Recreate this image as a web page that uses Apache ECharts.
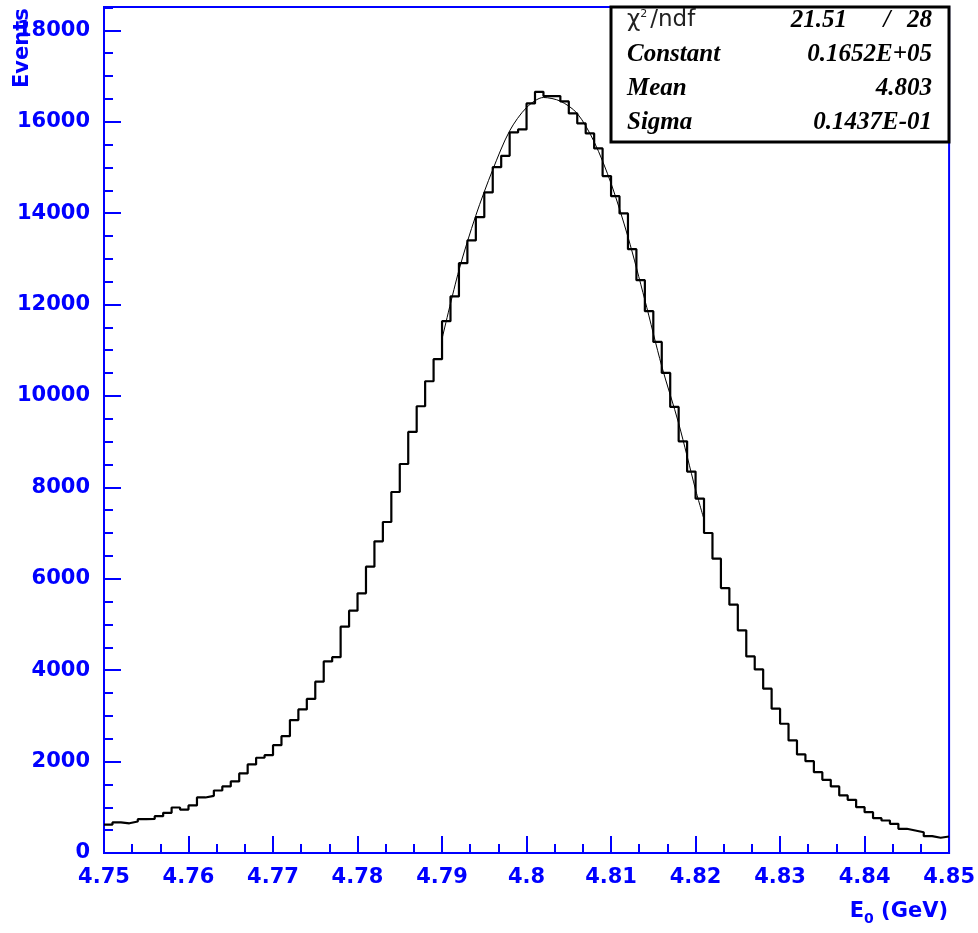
<!DOCTYPE html>
<html>
<head>
<meta charset="utf-8">
<script src="https://cdn.jsdelivr.net/npm/echarts@6/dist/echarts.min.js"></script>
<style>
html,body{margin:0;padding:0;background:#fff}
#chart{width:978px;height:933px}
</style>
</head>
<body>
<div id="chart"></div>
<script>
// histogram: 100 bins of 0.001 GeV starting at 4.75
var binLow = 4.75;
var binWidth = 0.001;
var counts = [
    620, 670, 650, 690, 740, 745, 805, 880, 995, 950,
    1040, 1215, 1250, 1368, 1456, 1565, 1740, 1937, 2084, 2141,
    2360, 2557, 2908, 3141, 3370, 3748, 4192, 4285, 4952, 5302,
    5681, 6265, 6819, 7242, 7898, 8511, 9212, 9775, 10322, 10804,
    11636, 12177, 12905, 13402, 13912, 14453, 15005, 15254, 15766, 15832,
    16401, 16655, 16561, 16561, 16445, 16182, 15963, 15744, 15416, 14810,
    14372, 13993, 13212, 12533, 11854, 11183, 10504, 9760, 9008, 8345,
    7754, 7001, 6440, 5797, 5434, 4871, 4302, 4017, 3595, 3157,
    2828, 2463, 2156, 2010, 1769, 1602, 1456, 1259, 1164, 1003,
    893, 762, 711, 639, 530, 493, 455, 368, 333, 361
];
// gaussian fit curve
var fitX = [4.790, 4.792, 4.794, 4.796, 4.798, 4.800, 4.802, 4.804, 4.806,
            4.808, 4.810, 4.812, 4.814, 4.816, 4.818, 4.820, 4.821];
var fitY = [11250, 12750, 13950, 14950, 15800, 16310, 16530, 16450, 16180,
            15560, 14650, 13480, 12100, 10650, 9400, 7950, 7300];
// stats box
var statNames = ['Constant', 'Mean', 'Sigma'];
var statValues = ['0.1652E+05', '4.803', '0.1437E-01'];
var chi2 = '21.51';
var ndf = '28';

var BLUE = '#0000ff';
var myChart = echarts.init(document.getElementById('chart'));

var histData = [];
for (var i = 0; i < counts.length; i++) {
    histData.push([+(binLow + i * binWidth).toFixed(3), counts[i]]);
}
histData.push([+(binLow + counts.length * binWidth).toFixed(3), counts[counts.length - 1]]);

var fitData = [];
for (var j = 0; j < fitX.length; j++) {
    fitData.push([fitX[j], fitY[j]]);
}

var labelFont = {color: BLUE, fontWeight: 'bold', fontSize: 21, fontFamily: 'DejaVu Sans'};
var statFont = 'bold italic 25px "Liberation Serif"';

var graphics = [
    {
        type: 'text', x: 23, y: 88, rotation: Math.PI / 2, z: 10,
        style: {text: 'Events', font: 'bold 21px "DejaVu Sans"', fill: BLUE,
            textAlign: 'left', textVerticalAlign: 'middle'}
    },
    {
        type: 'text', x: 948, y: 912, z: 10,
        style: {
            text: '{a|E}{s|0}{a| (GeV)}',
            textAlign: 'right', textVerticalAlign: 'middle',
            rich: {
                a: {font: 'bold 21px "DejaVu Sans"', fill: BLUE, lineHeight: 26},
                s: {font: 'bold 14px "DejaVu Sans"', fill: BLUE, lineHeight: 26, padding: [14, 0, 0, 0]}
            }
        }
    },
    {
        type: 'rect', z: 20,
        shape: {x: 611, y: 7, width: 338, height: 135},
        style: {fill: '#fff', stroke: '#000', lineWidth: 3}
    },
    {
        type: 'text', x: 627, y: 20, z: 21,
        style: {
            text: '{a|χ}{s|2}{a|/ndf}',
            textAlign: 'left', textVerticalAlign: 'middle',
            rich: {
                a: {font: '23px "DejaVu Sans"', fill: '#222', lineHeight: 26},
                s: {font: '11px "DejaVu Sans"', fill: '#222', lineHeight: 26, padding: [0, 3, 12, 0]}
            }
        }
    },
    {type: 'text', x: 847, y: 21, z: 21, style: {text: chi2, font: statFont, fill: '#000', textAlign: 'right', textVerticalAlign: 'middle'}},
    {type: 'text', x: 887, y: 21, z: 21, style: {text: '/', font: statFont, fill: '#000', textAlign: 'center', textVerticalAlign: 'middle'}},
    {type: 'text', x: 932, y: 21, z: 21, style: {text: ndf, font: statFont, fill: '#000', textAlign: 'right', textVerticalAlign: 'middle'}}
];
for (var k = 0; k < statNames.length; k++) {
    var yy = 55 + k * 33.7;
    graphics.push({type: 'text', x: 627, y: yy, z: 21,
        style: {text: statNames[k], font: statFont, fill: '#000', textAlign: 'left', textVerticalAlign: 'middle'}});
    graphics.push({type: 'text', x: 932, y: yy, z: 21,
        style: {text: statValues[k], font: statFont, fill: '#000', textAlign: 'right', textVerticalAlign: 'middle'}});
}

var option = {
    animation: false,
    backgroundColor: '#fff',
    grid: {
        left: 104, top: 7, right: 28, bottom: 80,
        show: true, borderColor: BLUE, borderWidth: 2, backgroundColor: 'transparent'
    },
    xAxis: {
        type: 'value', min: 4.75, max: 4.85, interval: 0.01,
        axisLine: {lineStyle: {color: BLUE, width: 2}},
        axisTick: {inside: true, length: 17, lineStyle: {color: BLUE, width: 2}},
        minorTick: {show: true, splitNumber: 3, length: 9, lineStyle: {color: BLUE, width: 2}},
        splitLine: {show: false},
        axisLabel: Object.assign({margin: 14}, labelFont)
    },
    yAxis: [
        {
            type: 'value', min: 0, max: 18510, interval: 2000,
            axisLine: {show: true, lineStyle: {color: BLUE, width: 2}},
            axisTick: {show: true, inside: true, length: 17, lineStyle: {color: BLUE, width: 2}},
            splitLine: {show: false},
            axisLabel: Object.assign({
                margin: 14,
                formatter: function (v) { return v % 2000 === 0 ? String(v) : ''; }
            }, labelFont)
        },
        {
            // minor ticks every 500
            type: 'value', position: 'left', min: 0, max: 18510, interval: 500,
            axisLine: {show: false},
            axisTick: {show: true, inside: true, length: 9, lineStyle: {color: BLUE, width: 2}},
            splitLine: {show: false},
            axisLabel: {show: false}
        }
    ],
    series: [
        {
            name: 'hist', type: 'line', step: 'end', data: histData,
            symbol: 'none', z: 3,
            lineStyle: {color: '#000', width: 2.2}
        },
        {
            name: 'fit', type: 'line', data: fitData, smooth: 0.3,
            symbol: 'none', z: 4,
            lineStyle: {color: '#000', width: 1}
        }
    ],
    graphic: graphics
};
myChart.setOption(option);
</script>
</body>
</html>
